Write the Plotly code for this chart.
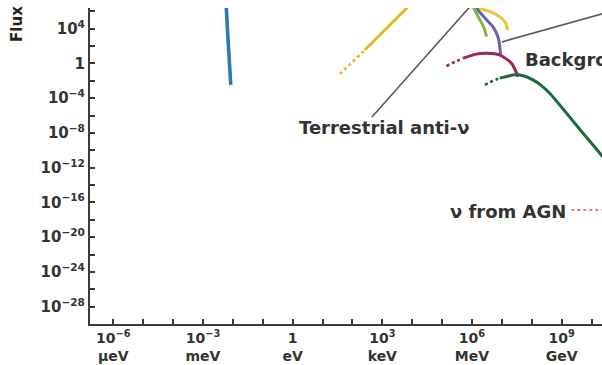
import plotly.graph_objects as go

# ---------------- data (energy in eV, flux arbitrary units) ----------------
cnb_energy = [6.0e-3, 6.6e-3, 7.4e-3, 8.5e-3]
cnb_flux = [4e6, 7e3, 1e1, 3.3e-3]

kev_dot_energy = [38, 260]
kev_dot_flux = [6.2e-2, 35]
kev_energy = [260, 1.0e4]
kev_flux = [35, 1.0e7]

lgreen_energy = [1.0e6, 1.15e6, 1.7e6, 2.45e6, 3.1e6]
lgreen_flux = [1e7, 2.5e6, 1.7e5, 1.6e4, 1.2e3]

purple_energy = [1.35e6, 1.6e6, 3.1e6, 5.0e6, 7.4e6, 8.5e6, 9.1e6]
purple_flux = [5.5e6, 1.4e6, 1.0e5, 1.7e4, 1.2e3, 85, 6.0]

myellow_energy = [1.4e6, 1.7e6, 3.4e6, 6.8e6, 1.26e7, 1.58e7]
myellow_flux = [8e6, 2.5e6, 1.1e6, 3.8e5, 6.5e4, 7.2e3]

maroon_dot_energy = [1.4e5, 2.7e5, 5.1e5]
maroon_dot_flux = [0.51, 1.5, 4.0]
maroon_energy = [5.1e5, 1.26e6, 3.1e6, 8.5e6, 2.1e7, 3.5e7]
maroon_flux = [4.0, 11, 15, 9.5, 1.05, 0.03]

dgreen_dot_energy = [2.7e6, 5.0e6, 8.5e6]
dgreen_dot_flux = [3.3e-3, 1.0e-2, 2.0e-2]
dgreen_energy = [8.5e6, 1.7e7, 2.7e7, 5.6e7, 1.1e8, 2.0e8, 4.0e8, 1.45e9, 5.2e9, 1.9e10, 4e10]
dgreen_flux = [2.0e-2, 3.6e-2, 4.8e-2, 3.5e-2, 1.26e-2, 3.2e-3, 3.7e-4, 1.9e-6, 9.1e-9, 4.6e-11, 2e-12]

agn_energy = [2.1e9, 4e10]
agn_flux = [1.35e-17, 1.25e-17]

terr_leader_energy = [450, 1.35e6]
terr_leader_flux = [6.9e-7, 2e7]
bg_leader_energy = [1.0e7, 8.7e10]
bg_leader_flux = [300, 1.9e6]

x_tick_exps = list(range(-6, 11))
x_tick_labels = {-6: "10<sup>−6</sup><br>μeV", -3: "10<sup>−3</sup><br>meV", 0: "1<br>eV",
                 3: "10<sup>3</sup><br>keV", 6: "10<sup>6</sup><br>MeV", 9: "10<sup>9</sup><br>GeV"}
y_tick_exps = list(range(6, -31, -2))
y_tick_labels = {4: "10<sup>4</sup>", 0: "1", -4: "10<sup>−4</sup>", -8: "10<sup>−8</sup>",
                 -12: "10<sup>−12</sup>", -16: "10<sup>−16</sup>", -20: "10<sup>−20</sup>",
                 -24: "10<sup>−24</sup>", -28: "10<sup>−28</sup>"}

annotations_text = ["Terrestrial anti-ν", "Background ν", "ν from AGN"]
annotations_pos = [(0.14, -7.43), (7.70, 0.40), (5.19, -17.04)]

FONT = "DejaVu Sans"
TXT = "#333333"

fig = go.Figure()


def line(x, y, color, width=3.2, dash="solid"):
    fig.add_trace(go.Scatter(x=x, y=y, mode="lines",
                             line=dict(color=color, width=width, dash=dash, shape="spline", smoothing=0.6),
                             hoverinfo="skip", showlegend=False))


# leader lines
line(terr_leader_energy, terr_leader_flux, "#5a5a5a", 1.6)
line(bg_leader_energy, bg_leader_flux, "#5a5a5a", 1.6)

line(cnb_energy, cnb_flux, "#2b7bb4", 3.6)
line(kev_dot_energy, kev_dot_flux, "#e8b62a", 2.6, "dot")
line(kev_energy, kev_flux, "#e8b62a", 3.0)
line(myellow_energy, myellow_flux, "#e9c53a", 3.0)
line(lgreen_energy, lgreen_flux, "#7fb843", 3.0)
line(purple_energy, purple_flux, "#6a60b4", 3.0)
line(maroon_dot_energy, maroon_dot_flux, "#9c2a4c", 2.6, "dot")
line(maroon_energy, maroon_flux, "#9c2a4c", 3.0)
line(dgreen_dot_energy, dgreen_dot_flux, "#1b6b3d", 2.6, "dot")
line(dgreen_energy, dgreen_flux, "#1b6b3d", 3.0)
line(agn_energy, agn_flux, "#e06a8c", 1.8, "dot")

annos = []
for t, (ax_, ay_) in zip(annotations_text, annotations_pos):
    annos.append(dict(x=ax_, y=ay_, xref="x", yref="y", text=t, showarrow=False,
                      xanchor="left", yanchor="middle",
                      font=dict(family=FONT, size=18, color=TXT, weight=700)))
annos.append(dict(x=-0.143, y=0.949, xref="paper", yref="paper", text="Flux", textangle=-90,
                  showarrow=False, xanchor="center", yanchor="middle",
                  font=dict(family=FONT, size=15, color="#222222", weight=700)))

fig.update_layout(
    width=602, height=365,
    margin=dict(l=90, r=0, t=8, b=41),
    paper_bgcolor="white", plot_bgcolor="white",
    annotations=annos,
    xaxis=dict(type="log", range=[-6.78, 10.35],
               tickvals=[10 ** e for e in x_tick_exps],
               ticktext=[x_tick_labels.get(e, "") for e in x_tick_exps],
               ticks="inside", ticklen=5, tickwidth=1.6, tickcolor="#3a3a3a",
               showline=True, linecolor="#3a3a3a", linewidth=2.2,
               showgrid=False, zeroline=False, automargin=False,
               tickfont=dict(family=FONT, size=14, color=TXT, weight=700)),
    yaxis=dict(type="log", range=[-30, 6.38],
               tickvals=[10 ** e for e in y_tick_exps],
               ticktext=[y_tick_labels.get(e, "") for e in y_tick_exps],
               ticks="inside", ticklen=5, tickwidth=1.6, tickcolor="#3a3a3a",
               showline=True, linecolor="#3a3a3a", linewidth=2.2,
               showgrid=False, zeroline=False, automargin=False,
               tickfont=dict(family=FONT, size=15, color=TXT, weight=700)),
)

# remove the default 8px page margin so the 602x365 figure fills the window exactly
fig.write_html("out.html", config={"displayModeBar": False},
               post_script="document.body.style.margin='0px';")
